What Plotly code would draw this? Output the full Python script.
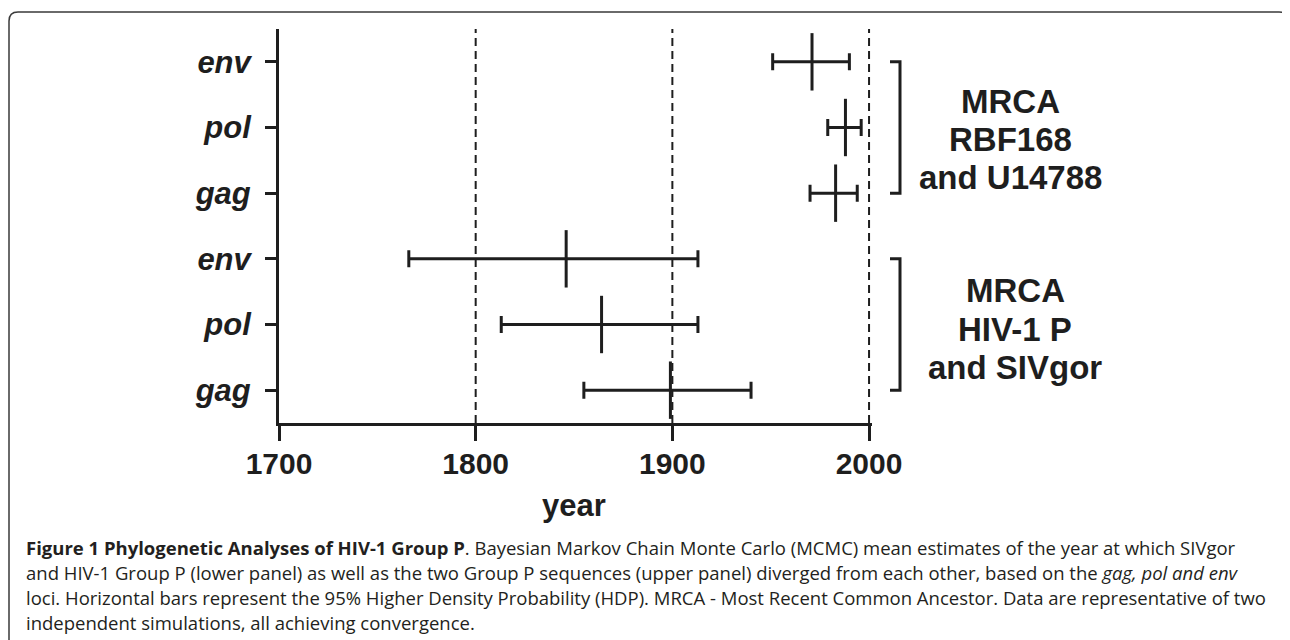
import plotly.graph_objects as go

# ---------------- data ----------------
loci = ["env", "pol", "gag"]
# MRCA RBF168 and U14788 (upper panel)
upper_mean = [1971, 1988, 1983]
upper_low = [1951, 1979, 1970]
upper_high = [1990, 1996, 1994]
# MRCA HIV-1 P and SIVgor (lower panel)
lower_mean = [1846, 1864, 1899]
lower_low = [1766, 1813, 1855]
lower_high = [1913, 1913, 1940]

year_ticks = [1700, 1800, 1900, 2000]
ref_years = [1800, 1900, 2000]
upper_label = ["MRCA", "RBF168", "and U14788"]
lower_label = ["MRCA", "HIV-1 P", "and SIVgor"]

caption_lines = [
    "<b>Figure 1 Phylogenetic Analyses of HIV-1 Group P</b>. Bayesian Markov Chain Monte Carlo (MCMC) mean estimates of the year at which SIVgor",
    "and HIV-1 Group P (lower panel) as well as the two Group P sequences (upper panel) diverged from each other, based on the <i>gag, pol and env</i>",
    "loci. Horizontal bars represent the 95% Higher Density Probability (HDP). MRCA - Most Recent Common Ancestor. Data are representative of two",
    "independent simulations, all achieving convergence.",
]

# rows from top to bottom
labels = loci + loci
means = upper_mean + lower_mean
lows = upper_low + lower_low
highs = upper_high + lower_high
n = len(labels)
ypos = [n - 1 - i for i in range(n)]

# ---------------- layout geometry (page pixels) ----------------
OFF = 8                      # page body margin around the figure
W_FIG, H_FIG = 1290 - OFF, 640 - OFF
L, T = 279 - OFF, 29 - OFF
PW, PH = 593, 394
R = W_FIG - L - PW
B = H_FIG - T - PH
INK = "#1e1e1e"


def px_x(px):
    return (px - OFF - L) / PW


def px_y(py):
    return (T + PH - (py - OFF)) / PH


fig = go.Figure()

fig.add_trace(go.Scatter(
    x=means, y=ypos, mode="markers",
    marker=dict(symbol="line-ns", size=41, color=INK, line=dict(width=3, color=INK)),
    error_x=dict(type="data", symmetric=False,
                 array=[h - m for h, m in zip(highs, means)],
                 arrayminus=[m - l for m, l in zip(means, lows)],
                 color=INK, thickness=3, width=8.5),
    showlegend=False, hoverinfo="skip", cliponaxis=False,
))

shapes = []
for yr in ref_years:
    shapes.append(dict(type="line", xref="x", yref="paper", x0=yr, x1=yr, y0=0, y1=1,
                       line=dict(color=INK, width=2, dash="8px,5px"), layer="below"))

# brackets
brackets = [(ypos[0], ypos[2]), (ypos[3], ypos[5])]
for top, bot in brackets:
    shapes.append(dict(type="path", xref="paper", yref="y",
                       path=f"M {px_x(890)},{top} L {px_x(900)},{top} L {px_x(900)},{bot} L {px_x(890)},{bot}",
                       line=dict(color=INK, width=3)))

# rounded frame
x0f, x1f, y0f, y1f = px_x(9), px_x(1288), px_y(12), px_y(660)
rx, ry = 9 / PW, 9 / PH
shapes.append(dict(type="path", xref="paper", yref="paper",
                   path=(f"M {x0f},{y1f} L {x0f},{y0f - ry} Q {x0f},{y0f} {x0f + rx},{y0f} "
                         f"L {x1f - rx},{y0f} Q {x1f},{y0f} {x1f},{y0f - ry} L {x1f},{y1f}"),
                   line=dict(color="#3a3a3a", width=1.5)))

annotations = []
for lines, cx, cys in [(upper_label, 1010, [102, 139.5, 177]),
                       (lower_label, 1015, [290.5, 329.5, 367.5])]:
    for txt, cy in zip(lines, cys):
        annotations.append(dict(text=txt, xref="paper", yref="paper", x=px_x(cx), y=px_y(cy),
                                xanchor="center", yanchor="middle", showarrow=False,
                                font=dict(family="Liberation Sans", size=33, color=INK, weight="bold")))

annotations.append(dict(text="year", xref="paper", yref="paper", x=px_x(574), y=px_y(506),
                        xanchor="center", yanchor="middle", showarrow=False,
                        font=dict(family="Liberation Sans", size=31, color=INK, weight="bold")))

for i, line in enumerate(caption_lines):
    annotations.append(dict(text=line, xref="paper", yref="paper", x=px_x(24), y=px_y(547 + 25 * i),
                            xanchor="left", yanchor="middle", showarrow=False, align="left",
                            font=dict(family="Open Sans", size=18.5, color="#231f20")))

fig.update_layout(
    width=W_FIG, height=H_FIG,
    margin=dict(l=L, r=R, t=T, b=B, pad=0),
    paper_bgcolor="white", plot_bgcolor="white",
    shapes=shapes, annotations=annotations,
    xaxis=dict(range=[year_ticks[0], year_ticks[-1] + 1.5], tickvals=year_ticks,
               ticktext=[str(v) for v in year_ticks],
               showline=True, linewidth=3, linecolor=INK, ticks="outside", ticklen=15,
               tickwidth=3, tickcolor=INK, showgrid=False, zeroline=False,
               tickfont=dict(family="Liberation Sans", size=30, color=INK, weight="bold"),
               ticklabelstandoff=-3),
    yaxis=dict(range=[-0.5, n - 0.5], tickvals=ypos, ticktext=labels,
               showline=True, linewidth=3, linecolor=INK, ticks="outside", ticklen=11,
               tickwidth=3, tickcolor=INK, showgrid=False, zeroline=False,
               tickfont=dict(family="Liberation Sans", size=31, color=INK, weight="bold", style="italic"),
               ticklabelstandoff=8),
)

fig.write_html("out.html")
